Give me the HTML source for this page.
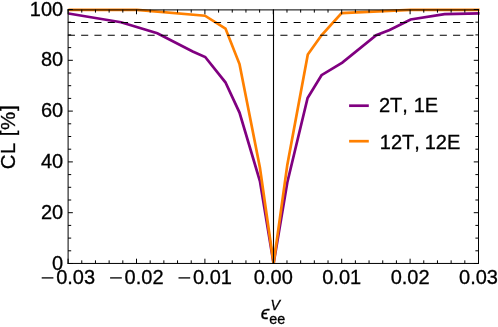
<!DOCTYPE html>
<html><head><meta charset="utf-8">
<style>
html,body{margin:0;padding:0;background:#fff;}
body{width:498px;height:327px;overflow:hidden;}
svg{display:block;will-change:transform;}
text{font-family:"Liberation Sans",sans-serif;fill:#000;stroke:#000;stroke-width:0.3px;}
</style></head><body>
<svg width="498" height="327" viewBox="0 0 498 327">
<rect width="498" height="327" fill="#fff"/>
<defs><clipPath id="pc"><rect x="67.9" y="0" width="412.2" height="263.9"/></clipPath></defs>
<g clip-path="url(#pc)">
<polyline points="68.4,13.5 121.0,22.2 157.3,33.2 192.7,51.5 205.2,57.0 225.4,82.3 239.5,112.6 259.9,181.0 273.6,263.5 287.3,182.5 307.6,98.0 321.5,75.2 342.3,62.6 376.2,35.2 389.6,30.0 410.6,19.5 444.6,14.1 479.6,13.4" fill="none" stroke="#800080" stroke-width="2.7" stroke-linejoin="miter"/>
<polyline points="68.4,9.8 137.0,9.8 205.0,15.7 225.5,28.6 239.5,64.1 259.9,167.6 273.6,263.5 287.3,164.9 307.8,54.5 321.5,35.3 341.6,13.1 410.4,9.8 479.6,9.8" fill="none" stroke="#ff8000" stroke-width="2.7" stroke-linejoin="miter"/>
</g>
<g stroke="#000" stroke-width="1.1" fill="none">
<line x1="67.85" y1="22.45" x2="478.5" y2="22.45" stroke-dasharray="7.1 6.183"/>
<line x1="67.85" y1="35.2" x2="478.5" y2="35.2" stroke-dasharray="7.1 6.183"/>
</g>
<line x1="273.5" y1="9.5" x2="273.5" y2="263.45" stroke="#000" stroke-width="1.1"/>
<g stroke="#000" stroke-width="1" fill="none">
<line x1="68.1" y1="9.0" x2="68.1" y2="263.95"/>
<line x1="478.5" y1="9.0" x2="478.5" y2="263.95"/>
<line x1="67.6" y1="263.45" x2="479.0" y2="263.45"/>
<line x1="67.6" y1="9.9" x2="479.0" y2="9.9"/>
</g>
<g stroke="#000" stroke-width="1" fill="none">
<line x1="68.10" y1="263.45" x2="68.10" y2="258.7"/>
<line x1="68.10" y1="9.6" x2="68.10" y2="14.25"/>
<line x1="81.78" y1="263.45" x2="81.78" y2="260.34999999999997"/>
<line x1="81.78" y1="9.6" x2="81.78" y2="12.60"/>
<line x1="95.46" y1="263.45" x2="95.46" y2="260.34999999999997"/>
<line x1="95.46" y1="9.6" x2="95.46" y2="12.60"/>
<line x1="109.14" y1="263.45" x2="109.14" y2="260.34999999999997"/>
<line x1="109.14" y1="9.6" x2="109.14" y2="12.60"/>
<line x1="122.82" y1="263.45" x2="122.82" y2="260.34999999999997"/>
<line x1="122.82" y1="9.6" x2="122.82" y2="12.60"/>
<line x1="136.50" y1="263.45" x2="136.50" y2="258.7"/>
<line x1="136.50" y1="9.6" x2="136.50" y2="14.25"/>
<line x1="150.18" y1="263.45" x2="150.18" y2="260.34999999999997"/>
<line x1="150.18" y1="9.6" x2="150.18" y2="12.60"/>
<line x1="163.86" y1="263.45" x2="163.86" y2="260.34999999999997"/>
<line x1="163.86" y1="9.6" x2="163.86" y2="12.60"/>
<line x1="177.54" y1="263.45" x2="177.54" y2="260.34999999999997"/>
<line x1="177.54" y1="9.6" x2="177.54" y2="12.60"/>
<line x1="191.22" y1="263.45" x2="191.22" y2="260.34999999999997"/>
<line x1="191.22" y1="9.6" x2="191.22" y2="12.60"/>
<line x1="204.90" y1="263.45" x2="204.90" y2="258.7"/>
<line x1="204.90" y1="9.6" x2="204.90" y2="14.25"/>
<line x1="218.58" y1="263.45" x2="218.58" y2="260.34999999999997"/>
<line x1="218.58" y1="9.6" x2="218.58" y2="12.60"/>
<line x1="232.26" y1="263.45" x2="232.26" y2="260.34999999999997"/>
<line x1="232.26" y1="9.6" x2="232.26" y2="12.60"/>
<line x1="245.94" y1="263.45" x2="245.94" y2="260.34999999999997"/>
<line x1="245.94" y1="9.6" x2="245.94" y2="12.60"/>
<line x1="259.62" y1="263.45" x2="259.62" y2="260.34999999999997"/>
<line x1="259.62" y1="9.6" x2="259.62" y2="12.60"/>
<line x1="273.30" y1="263.45" x2="273.30" y2="258.7"/>
<line x1="273.30" y1="9.6" x2="273.30" y2="14.25"/>
<line x1="286.98" y1="263.45" x2="286.98" y2="260.34999999999997"/>
<line x1="286.98" y1="9.6" x2="286.98" y2="12.60"/>
<line x1="300.66" y1="263.45" x2="300.66" y2="260.34999999999997"/>
<line x1="300.66" y1="9.6" x2="300.66" y2="12.60"/>
<line x1="314.34" y1="263.45" x2="314.34" y2="260.34999999999997"/>
<line x1="314.34" y1="9.6" x2="314.34" y2="12.60"/>
<line x1="328.02" y1="263.45" x2="328.02" y2="260.34999999999997"/>
<line x1="328.02" y1="9.6" x2="328.02" y2="12.60"/>
<line x1="341.70" y1="263.45" x2="341.70" y2="258.7"/>
<line x1="341.70" y1="9.6" x2="341.70" y2="14.25"/>
<line x1="355.38" y1="263.45" x2="355.38" y2="260.34999999999997"/>
<line x1="355.38" y1="9.6" x2="355.38" y2="12.60"/>
<line x1="369.06" y1="263.45" x2="369.06" y2="260.34999999999997"/>
<line x1="369.06" y1="9.6" x2="369.06" y2="12.60"/>
<line x1="382.74" y1="263.45" x2="382.74" y2="260.34999999999997"/>
<line x1="382.74" y1="9.6" x2="382.74" y2="12.60"/>
<line x1="396.42" y1="263.45" x2="396.42" y2="260.34999999999997"/>
<line x1="396.42" y1="9.6" x2="396.42" y2="12.60"/>
<line x1="410.10" y1="263.45" x2="410.10" y2="258.7"/>
<line x1="410.10" y1="9.6" x2="410.10" y2="14.25"/>
<line x1="423.78" y1="263.45" x2="423.78" y2="260.34999999999997"/>
<line x1="423.78" y1="9.6" x2="423.78" y2="12.60"/>
<line x1="437.46" y1="263.45" x2="437.46" y2="260.34999999999997"/>
<line x1="437.46" y1="9.6" x2="437.46" y2="12.60"/>
<line x1="451.14" y1="263.45" x2="451.14" y2="260.34999999999997"/>
<line x1="451.14" y1="9.6" x2="451.14" y2="12.60"/>
<line x1="464.82" y1="263.45" x2="464.82" y2="260.34999999999997"/>
<line x1="464.82" y1="9.6" x2="464.82" y2="12.60"/>
<line x1="478.50" y1="263.45" x2="478.50" y2="258.7"/>
<line x1="478.50" y1="9.6" x2="478.50" y2="14.25"/>
<line x1="68.1" y1="263.50" x2="72.85" y2="263.50"/>
<line x1="478.5" y1="263.50" x2="473.75" y2="263.50"/>
<line x1="68.1" y1="250.80" x2="71.19999999999999" y2="250.80"/>
<line x1="478.5" y1="250.80" x2="475.4" y2="250.80"/>
<line x1="68.1" y1="238.10" x2="71.19999999999999" y2="238.10"/>
<line x1="478.5" y1="238.10" x2="475.4" y2="238.10"/>
<line x1="68.1" y1="225.40" x2="71.19999999999999" y2="225.40"/>
<line x1="478.5" y1="225.40" x2="475.4" y2="225.40"/>
<line x1="68.1" y1="212.70" x2="72.85" y2="212.70"/>
<line x1="478.5" y1="212.70" x2="473.75" y2="212.70"/>
<line x1="68.1" y1="200.00" x2="71.19999999999999" y2="200.00"/>
<line x1="478.5" y1="200.00" x2="475.4" y2="200.00"/>
<line x1="68.1" y1="187.30" x2="71.19999999999999" y2="187.30"/>
<line x1="478.5" y1="187.30" x2="475.4" y2="187.30"/>
<line x1="68.1" y1="174.60" x2="71.19999999999999" y2="174.60"/>
<line x1="478.5" y1="174.60" x2="475.4" y2="174.60"/>
<line x1="68.1" y1="161.90" x2="72.85" y2="161.90"/>
<line x1="478.5" y1="161.90" x2="473.75" y2="161.90"/>
<line x1="68.1" y1="149.20" x2="71.19999999999999" y2="149.20"/>
<line x1="478.5" y1="149.20" x2="475.4" y2="149.20"/>
<line x1="68.1" y1="136.50" x2="71.19999999999999" y2="136.50"/>
<line x1="478.5" y1="136.50" x2="475.4" y2="136.50"/>
<line x1="68.1" y1="123.80" x2="71.19999999999999" y2="123.80"/>
<line x1="478.5" y1="123.80" x2="475.4" y2="123.80"/>
<line x1="68.1" y1="111.10" x2="72.85" y2="111.10"/>
<line x1="478.5" y1="111.10" x2="473.75" y2="111.10"/>
<line x1="68.1" y1="98.40" x2="71.19999999999999" y2="98.40"/>
<line x1="478.5" y1="98.40" x2="475.4" y2="98.40"/>
<line x1="68.1" y1="85.70" x2="71.19999999999999" y2="85.70"/>
<line x1="478.5" y1="85.70" x2="475.4" y2="85.70"/>
<line x1="68.1" y1="73.00" x2="71.19999999999999" y2="73.00"/>
<line x1="478.5" y1="73.00" x2="475.4" y2="73.00"/>
<line x1="68.1" y1="60.30" x2="72.85" y2="60.30"/>
<line x1="478.5" y1="60.30" x2="473.75" y2="60.30"/>
<line x1="68.1" y1="47.60" x2="71.19999999999999" y2="47.60"/>
<line x1="478.5" y1="47.60" x2="475.4" y2="47.60"/>
<line x1="68.1" y1="34.90" x2="71.19999999999999" y2="34.90"/>
<line x1="478.5" y1="34.90" x2="475.4" y2="34.90"/>
<line x1="68.1" y1="22.20" x2="71.19999999999999" y2="22.20"/>
<line x1="478.5" y1="22.20" x2="475.4" y2="22.20"/>
<line x1="68.1" y1="9.50" x2="72.85" y2="9.50"/>
<line x1="478.5" y1="9.50" x2="473.75" y2="9.50"/>
</g>
<g font-size="20">
<text x="63.2" y="269.5" text-anchor="end">0</text>
<text x="63.2" y="218.7" text-anchor="end">20</text>
<text x="63.2" y="167.9" text-anchor="end">40</text>
<text x="63.2" y="117.1" text-anchor="end">60</text>
<text x="63.2" y="66.3" text-anchor="end">80</text>
<text x="63.2" y="15.5" text-anchor="end">100</text>
<line x1="41.7" y1="277.9" x2="53.4" y2="277.9" stroke="#000" stroke-width="1.3"/>
<text x="56.2" y="284.2">0.03</text>
<line x1="110.1" y1="277.9" x2="121.8" y2="277.9" stroke="#000" stroke-width="1.3"/>
<text x="124.6" y="284.2">0.02</text>
<line x1="178.5" y1="277.9" x2="190.2" y2="277.9" stroke="#000" stroke-width="1.3"/>
<text x="193.0" y="284.2">0.01</text>
<text x="273.3" y="284.2" text-anchor="middle">0.00</text>
<text x="341.7" y="284.2" text-anchor="middle">0.01</text>
<text x="410.1" y="284.2" text-anchor="middle">0.02</text>
<text x="478.5" y="284.2" text-anchor="middle">0.03</text>
<text transform="translate(15.1,169.3) rotate(-90)" font-size="20.3" letter-spacing="0.7">CL</text>
<text transform="translate(15.1,136.2) rotate(-90)" font-size="20.5" letter-spacing="0.6">[%]</text>
<line x1="349.1" y1="105.7" x2="368.8" y2="105.7" stroke="#800080" stroke-width="2.7"/>
<line x1="349.1" y1="141.2" x2="368.8" y2="141.2" stroke="#ff8000" stroke-width="2.7"/>
<text x="378.9" y="112.4" word-spacing="0.4" style="font-kerning:none">2T, 1E</text>
<text x="379.8" y="149.2" word-spacing="-0.7" style="font-kerning:none">12T, 12E</text>
</g>
<g>
<text x="260.7" y="318.8" font-size="19.3" font-style="italic">&#x3F5;</text>
<text x="270.6" y="309.5" font-size="14.3" font-style="italic">V</text>
<text x="269.3" y="323.8" font-size="14.3">ee</text>
</g>
</svg>
</body></html>
